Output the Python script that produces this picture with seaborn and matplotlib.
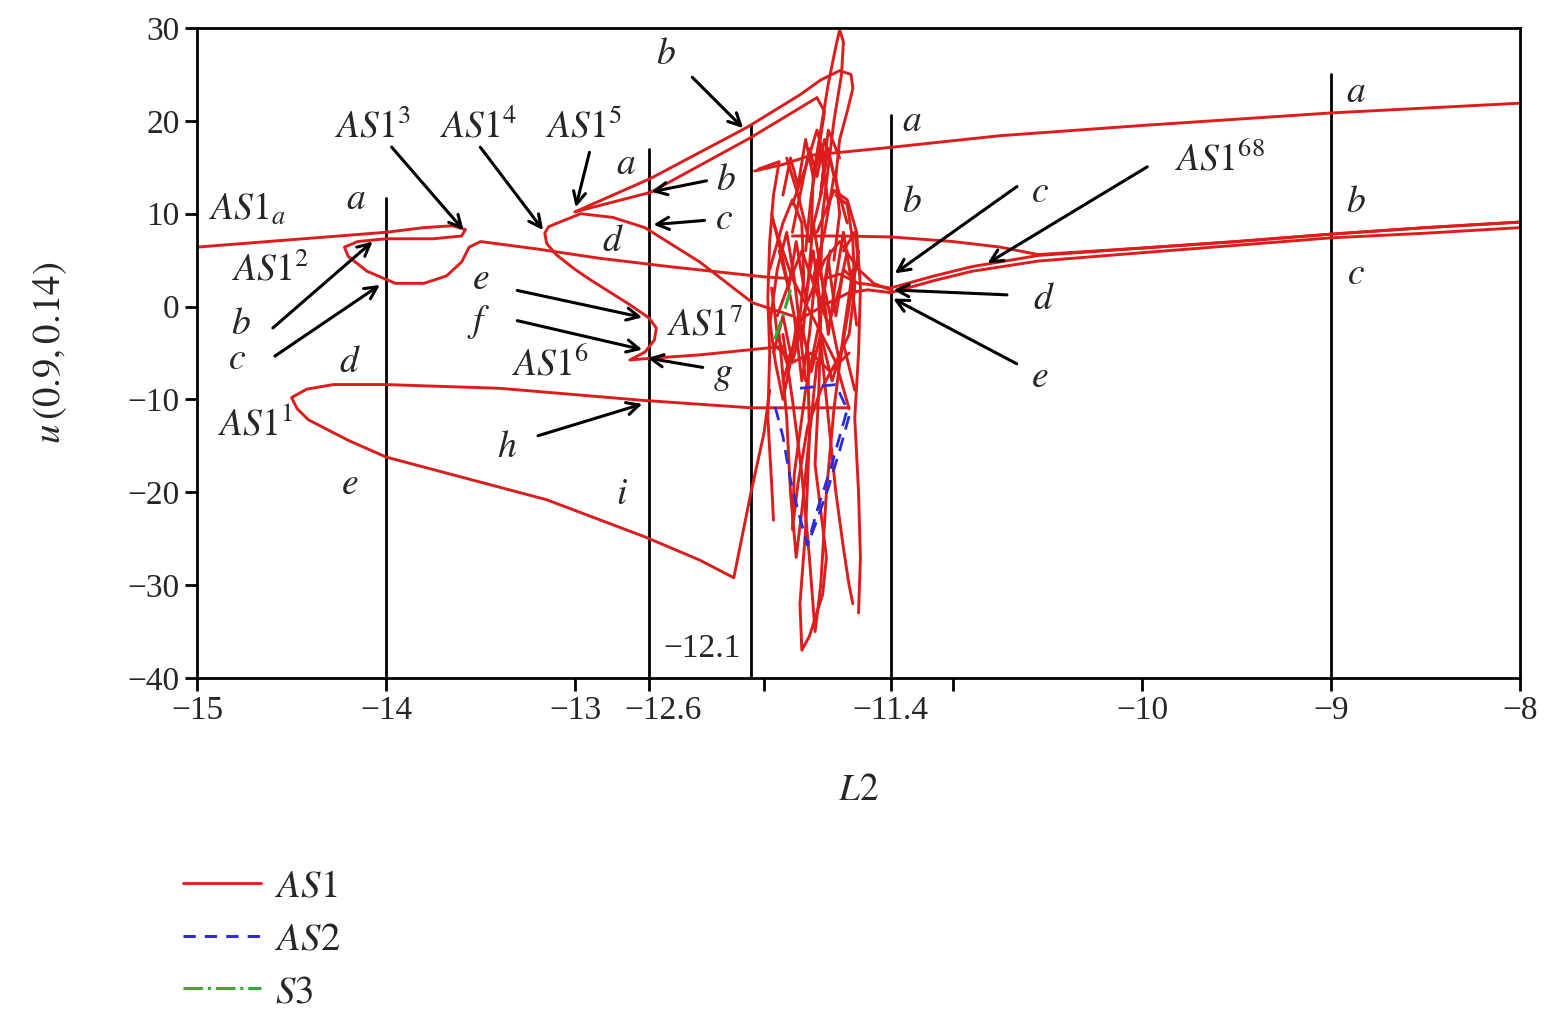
import matplotlib
matplotlib.use("Agg")
import matplotlib.pyplot as plt
import matplotlib.transforms as mtransforms
from matplotlib.lines import Line2D
import seaborn as sns
import pandas as pd

sns.set_style("white")
plt.rcParams['font.family'] = ['Liberation Serif', 'DejaVu Serif']
plt.rcParams['mathtext.fontset'] = 'stix'

RED = '#dd1c1c'
BLUE = '#2b2bdd'
GREEN = '#33aa33'

# ---- AS1 branches ----
as1a_x = [-15.0, -14.5, -14.0, -13.8, -13.65, -13.58, -13.6, -13.75, -14.0, -14.15, -14.22, -14.2, -14.1, -13.95,
          -13.8, -13.68, -13.6, -13.56, -13.5, -13.2, -12.87, -12.5, -12.0, -11.85]
as1a_y = [6.4, 7.2, 8.0, 8.5, 8.7, 8.3, 7.6, 7.3, 7.3, 7.0, 6.4, 5.4, 3.8, 2.5, 2.5, 3.3, 4.8, 6.4, 7.0, 6.2, 5.2,
          4.3, 3.2, 3.0]

as14_x = [-11.85, -12.06, -12.34, -12.63, -12.8, -12.97, -13.08, -13.14, -13.16, -13.15, -13.1, -13.0, -12.92,
          -12.71, -12.61, -12.57, -12.58, -12.63, -12.71, -12.62, -12.34, -12.0, -11.9]
as14_y = [-1.0, 0.4, 4.8, 8.5, 9.6, 10.0, 9.1, 8.6, 7.9, 6.8, 5.6, 4.0, 2.9, 0.2, -1.2, -2.3, -3.6, -4.9, -5.75,
          -5.6, -5.2, -4.5, -4.3]

as15u_x = [-13.0, -12.6, -12.09, -11.81, -11.7, -11.6, -11.54, -11.53, -11.56, -11.6, -11.62, -11.6, -11.63]
as15u_y = [10.2, 13.8, 19.3, 22.8, 24.4, 25.4, 25.0, 23.5, 21.0, 18.0, 14.0, 10.0, 5.0]
as15l_x = [-13.0, -12.6, -12.07, -11.85, -11.72, -11.68, -11.71, -11.75, -11.78]
as15l_y = [10.2, 12.3, 18.2, 20.9, 22.5, 21.0, 17.0, 12.0, 6.0]

as11_x = [-11.55, -12.07, -12.64, -13.4, -14.0, -14.28, -14.42, -14.5, -14.47, -14.41, -14.2, -14.0, -13.15,
          -12.63, -12.34, -12.16, -12.07, -12.0, -11.97]
as11_y = [-10.9, -10.9, -10.1, -8.8, -8.4, -8.4, -8.9, -9.8, -11.0, -12.2, -14.4, -16.2, -20.8, -24.8, -27.3,
          -29.2, -20.1, -13.6, -9.0]

top_x = [-12.05, -11.9, -11.75, -11.35, -10.75, -10.0, -9.0, -8.0]
top_y = [14.6, 15.3, 16.3, 17.1, 18.4, 19.5, 20.85, 21.9]
rup_x = [-11.85, -11.6, -11.33, -11.0, -10.75, -10.55, -10.0, -9.5, -9.0, -8.5, -8.0]
rup_y = [7.6, 7.6, 7.5, 7.0, 6.4, 5.6, 6.3, 7.0, 7.8, 8.5, 9.1]
rmid_x = [-11.33, -11.1, -10.9, -10.55, -10.0, -9.5, -9.0, -8.5, -8.0]
rmid_y = [2.0, 3.3, 4.3, 5.5, 6.3, 7.0, 7.8, 8.5, 9.1]
rlo_x = [-11.33, -11.1, -10.9, -10.55, -10.0, -9.5, -9.0, -8.5, -8.0]
rlo_y = [1.5, 2.8, 3.8, 4.9, 5.8, 6.6, 7.4, 7.9, 8.5]

# ---- chaotic tangle of AS1 near L2 = -11.7 ----
t1_x = [-11.75, -11.74, -11.7, -11.66, -11.62, -11.6, -11.58, -11.59, -11.63, -11.66, -11.69, -11.7]
t1_y = [8, 14, 19, 24, 28, 29.8, 28.5, 25, 20, 15, 10, 4]
t2_x = [-12.03, -11.92, -11.95, -11.97, -11.98, -11.97, -11.98, -11.96, -11.95]
t2_y = [14.8, 15.6, 12, 7, 1, -5, -12, -19, -23]
t3_x = [-11.97, -11.9, -11.85, -11.8, -11.79, -11.82, -11.88, -11.93, -11.96]
t3_y = [4, 9, 11.5, 9, 3, -3, -6, -3, 2]
t4_x = [-11.62, -11.56, -11.53, -11.52, -11.55, -11.62, -11.7, -11.77, -11.82, -11.85, -11.84, -11.78, -11.7, -11.65]
t4_y = [12, 11, 7, 2, -3, -6, -9, -13, -19, -24, -18, -9, -1, 6]
t5_x = [-11.72, -11.63, -11.56, -11.51, -11.49, -11.5, -11.52, -11.5, -11.49, -11.5]
t5_y = [8, 12.5, 11.5, 8, 2, -5, -12, -20, -27, -33]
t6_x = [-11.77, -11.76, -11.78, -11.81, -11.8, -11.76, -11.69, -11.67, -11.7, -11.73, -11.71, -11.7]
t6_y = [-4, -14, -24, -32, -37, -35.5, -31, -27, -22, -17, -9, -1]
t7_x = [-11.9, -11.85, -11.8, -11.76, -11.73, -11.7, -11.67, -11.63, -11.58, -11.53]
t7_y = [-3, -10, -18, -27, -35, -30, -20, -11, -3, 4]
t8_x = [-11.95, -11.85, -11.72, -11.62, -11.55]
t8_y = [9, 3, -2, -6, -11]
t9_x = [-11.9, -11.78, -11.68, -11.6, -11.5, -11.42, -11.33]
t9_y = [-8, 0, 5, 7, 4, 2.5, 1.8]
t10_x = [-11.78, -11.65, -11.55, -11.45, -11.33]
t10_y = [-1, 0.5, 1.5, 1.8, 1.5]
t11_x = [-11.88, -11.82, -11.76, -11.7, -11.66, -11.63, -11.68, -11.74]
t11_y = [16, 12, 7, 12, 17, 14, 8, 3]
t12_x = [-11.93, -11.86, -11.8, -11.73, -11.66, -11.6, -11.56]
t12_y = [-1, 3, 6, 2, -2, 2, 6]
t13_x = [-11.68, -11.6, -11.55, -11.5, -11.45, -11.4, -11.33]
t13_y = [3, 3.5, 3, 2.5, 2.4, 2.2, 2.0]
t14_x = [-11.92, -11.87, -11.83, -11.78, -11.74, -11.7, -11.66, -11.62, -11.58]
t14_y = [6, 2, 7, 1, 6, 0, 5, -1, 4]
t15_x = [-11.95, -11.9, -11.85, -11.8, -11.75, -11.7, -11.64, -11.58, -11.52]
t15_y = [-5, -1, -6, -2, -7, -3, -8, -4, -9]
t16_x = [-11.85, -11.78, -11.72, -11.68, -11.7, -11.66, -11.6]
t16_y = [11, 15, 19, 16, 12, 19, 16]
t17_x = [-11.97, -11.93, -11.88, -11.84, -11.8, -11.77, -11.74, -11.7, -11.66, -11.62, -11.58, -11.54, -11.51]
t17_y = [-2, 4, 8, 3, -4, 2, 9, 4, -3, 3, 8, 3, -2]
t18_x = [-11.96, -11.9, -11.84, -11.8, -11.76, -11.72, -11.67, -11.6, -11.55, -11.5]
t18_y = [10, 5, -1, -8, -3, 5, 1, -6, 0, 6]
t19_x = [-11.92, -11.88, -11.86, -11.83, -11.8, -11.76, -11.72]
t19_y = [-3, -12, -20, -27, -22, -14, -6]
t20_x = [-11.72, -11.7, -11.66, -11.62, -11.58, -11.55, -11.53]
t20_y = [4, -4, -12, -20, -26, -30, -32]
t21_x = [-11.85, -11.8, -11.76, -11.72, -11.68, -11.64, -11.6, -11.56]
t21_y = [8, 13, 17, 14, 18, 15, 12, 9]
t22_x = [-11.9, -11.86, -11.82, -11.78, -11.74, -11.7, -11.66]
t22_y = [12, 16, 13, 18, 14, 17, 11]
t23_x = [-11.98, -11.94, -11.9, -11.86, -11.82, -11.78]
t23_y = [0, -6, -10, -6, -1, -8]
t24_x = [-11.58, -11.52, -11.5, -11.53, -11.58]
t24_y = [6, 8, 5, 3, 4]
t25_x = [-11.95, -11.85, -11.75, -11.65, -11.55]
t25_y = [-4, -6, -5, -7, -5]

# ---- AS2 (dashed) and S3 (dash-dot) ----
as2a_x = [-11.81, -11.62, -11.56, -11.6, -11.65, -11.72, -11.77, -11.82, -11.86, -11.9, -11.95]
as2a_y = [-8.8, -8.4, -11.1, -14.0, -17.6, -22.0, -25.7, -22.0, -18.7, -14.0, -10.1]
as2b_x = [-11.55, -11.6, -11.66, -11.72, -11.77]
as2b_y = [-11.8, -15.5, -19.5, -23.0, -25.7]
s3_x = [-11.86, -11.9, -11.95]
s3_y = [1.8, -1.0, -3.9]

# ---- vertical reference lines ----
vline_x = [-14.0, -12.61, -12.07, -11.33, -9.0]
vline_top = [11.7, 17.0, 19.5, 20.6, 25.0]

segs = {
    'as1a': (as1a_x, as1a_y, 'AS1'), 'as14': (as14_x, as14_y, 'AS1'),
    'as15u': (as15u_x, as15u_y, 'AS1'), 'as15l': (as15l_x, as15l_y, 'AS1'),
    'as11': (as11_x, as11_y, 'AS1'), 'top': (top_x, top_y, 'AS1'),
    'rup': (rup_x, rup_y, 'AS1'), 'rmid': (rmid_x, rmid_y, 'AS1'), 'rlo': (rlo_x, rlo_y, 'AS1'),
    't1': (t1_x, t1_y, 'AS1'), 't2': (t2_x, t2_y, 'AS1'), 't3': (t3_x, t3_y, 'AS1'),
    't4': (t4_x, t4_y, 'AS1'), 't5': (t5_x, t5_y, 'AS1'), 't6': (t6_x, t6_y, 'AS1'),
    't7': (t7_x, t7_y, 'AS1'), 't8': (t8_x, t8_y, 'AS1'), 't9': (t9_x, t9_y, 'AS1'),
    't10': (t10_x, t10_y, 'AS1'), 't11': (t11_x, t11_y, 'AS1'), 't12': (t12_x, t12_y, 'AS1'),
    't13': (t13_x, t13_y, 'AS1'), 't14': (t14_x, t14_y, 'AS1'), 't15': (t15_x, t15_y, 'AS1'),
    't16': (t16_x, t16_y, 'AS1'), 't17': (t17_x, t17_y, 'AS1'), 't18': (t18_x, t18_y, 'AS1'),
    't19': (t19_x, t19_y, 'AS1'), 't20': (t20_x, t20_y, 'AS1'), 't21': (t21_x, t21_y, 'AS1'),
    't22': (t22_x, t22_y, 'AS1'), 't23': (t23_x, t23_y, 'AS1'), 't24': (t24_x, t24_y, 'AS1'),
    't25': (t25_x, t25_y, 'AS1'),
    'as2a': (as2a_x, as2a_y, 'AS2'), 'as2b': (as2b_x, as2b_y, 'AS2'),
    's3': (s3_x, s3_y, 'S3'),
}
rows = []
for name, (xs, ys, kind) in segs.items():
    for i, (xv, yv) in enumerate(zip(xs, ys)):
        rows.append({'seg': name, 'i': i, 'L2': xv, 'u': yv, 'kind': kind})
df = pd.DataFrame(rows)

fig = plt.figure(figsize=(15.44, 10.17), dpi=100)
ax = fig.add_axes([0.1276, 0.3333, 0.8569, 0.6392])

# vertical lines
for xv, yt in zip(vline_x, vline_top):
    ax.plot([xv, xv], [-40, yt], color='black', lw=2.0, zorder=1)

sns.lineplot(data=df[df.kind == 'AS1'], x='L2', y='u', units='seg', estimator=None, sort=False,
             color=RED, lw=2.1, ax=ax, legend=False, zorder=2)
sns.lineplot(data=df[df.kind == 'AS2'], x='L2', y='u', units='seg', estimator=None, sort=False,
             color=BLUE, lw=2.0, ax=ax, legend=False, zorder=3, linestyle=(0, (5, 3)))
sns.lineplot(data=df[df.kind == 'S3'], x='L2', y='u', units='seg', estimator=None, sort=False,
             color=GREEN, lw=2.2, ax=ax, legend=False, zorder=3, linestyle='-.')

ax.set_xlim(-15, -8)
ax.set_ylim(-40, 30)
ax.set_xticks([-15, -14, -13, -12.61, -11.33, -10, -9, -8])
ax.set_xticklabels(['\u221215', '\u221214', '\u221213', '\u221212.6', '\u221211.4', '\u221210', '\u22129', '\u22128'])
ax.set_xticks([-12, -11], minor=True)
ax.set_yticks(range(-40, 31, 10))
ax.set_yticklabels([f'\u2212{abs(v)}' if v < 0 else str(v) for v in range(-40, 31, 10)])
ax.tick_params(axis='both', which='both', direction='out', length=9, width=2, labelsize=24, color='black',
               bottom=True, left=True)
# nudge the -12.6 label right so it clears -13
lab = ax.get_xticklabels()[3]
lab.set_transform(lab.get_transform() + mtransforms.ScaledTranslation(14 / 100, 0, fig.dpi_scale_trans))
for s in ax.spines.values():
    s.set_linewidth(2)
    s.set_color('black')
ax.set_xlabel(r'$L2$', fontsize=27, labelpad=34)
ax.set_ylabel(r'$u\,(0.9, 0.14)$', fontsize=28, labelpad=42)

# labels
labels = [
    (r'$AS1_a$', -14.73, 10.4), (r'$a$', -14.16, 11.5), (r'$AS1^2$', -14.61, 3.9), (r'$b$', -14.77, -2.0),
    (r'$c$', -14.79, -5.75), (r'$d$', -14.19, -6.0), (r'$AS1^1$', -14.69, -12.75), (r'$e$', -14.19, -19.2),
    (r'$AS1^3$', -14.07, 19.3), (r'$AS1^4$', -13.51, 19.3), (r'$AS1^5$', -12.95, 19.3), (r'$a$', -12.73, 15.3),
    (r'$b$', -12.52, 27.1), (r'$b$', -12.2, 13.6), (r'$c$', -12.21, 9.3), (r'$d$', -12.8, 7.0),
    (r'$e$', -13.5, 2.9), (r'$f$', -13.51, -1.7), (r'$AS1^7$', -12.31, -2.0), (r'$AS1^6$', -13.13, -6.3),
    (r'$g$', -12.22, -7.4), (r'$h$', -13.36, -15.2), (r'$i$', -12.75, -20.3), (r'$a$', -11.22, 19.9),
    (r'$b$', -11.22, 11.15), (r'$c$', -10.54, 12.3), (r'$AS1^{68}$', -9.59, 15.8), (r'$d$', -10.52, 0.7),
    (r'$e$', -10.54, -7.7), (r'$a$', -8.87, 23.0), (r'$b$', -8.87, 11.15), (r'$c$', -8.87, 3.4),
]
for txt, xv, yv in labels:
    ax.text(xv, yv, txt, fontsize=27, ha='center', va='center', zorder=5)
ax.text(-12.33, -36.8, '\u221212.1', fontsize=24, ha='center', va='center')

# arrows: tail -> head
arrows = [
    ((-13.98, 17.4), (-13.58, 8.0)), ((-13.51, 17.4), (-13.16, 8.0)), ((-12.92, 16.9), (-13.0, 10.4)),
    ((-12.39, 24.9), (-12.1, 19.0)), ((-12.29, 13.6), (-12.61, 12.3)), ((-12.3, 9.3), (-12.6, 8.8)),
    ((-13.32, 1.8), (-12.63, -1.23)), ((-13.32, -1.45), (-12.63, -4.7)), ((-12.31, -6.6), (-12.63, -5.5)),
    ((-13.21, -14.0), (-12.63, -10.4)), ((-14.61, -2.5), (-14.06, 7.2)), ((-14.6, -5.5), (-14.02, 2.5)),
    ((-10.65, 13.1), (-11.32, 3.4)), ((-9.96, 15.2), (-10.83, 4.5)), ((-10.7, 1.25), (-11.33, 1.8)),
    ((-10.65, -6.3), (-11.33, 1.0)),
]
for tail, head in arrows:
    ax.annotate('', xy=head, xytext=tail,
                arrowprops=dict(arrowstyle='->', lw=2.2, color='black', mutation_scale=22), zorder=6)

handles = [Line2D([], [], color=RED, lw=2.0),
           Line2D([], [], color=BLUE, lw=2.2, linestyle=(0, (4, 3))),
           Line2D([], [], color=GREEN, lw=2.2, linestyle='-.')]
fig.legend(handles, [r'$AS1$', r'$AS2$', r'$S3$'], loc='upper left', bbox_to_anchor=(0.096, 0.18),
           frameon=False, fontsize=28, handlelength=2.0, handletextpad=0.35, labelspacing=0.4)

fig.savefig('out.png', dpi=100)
